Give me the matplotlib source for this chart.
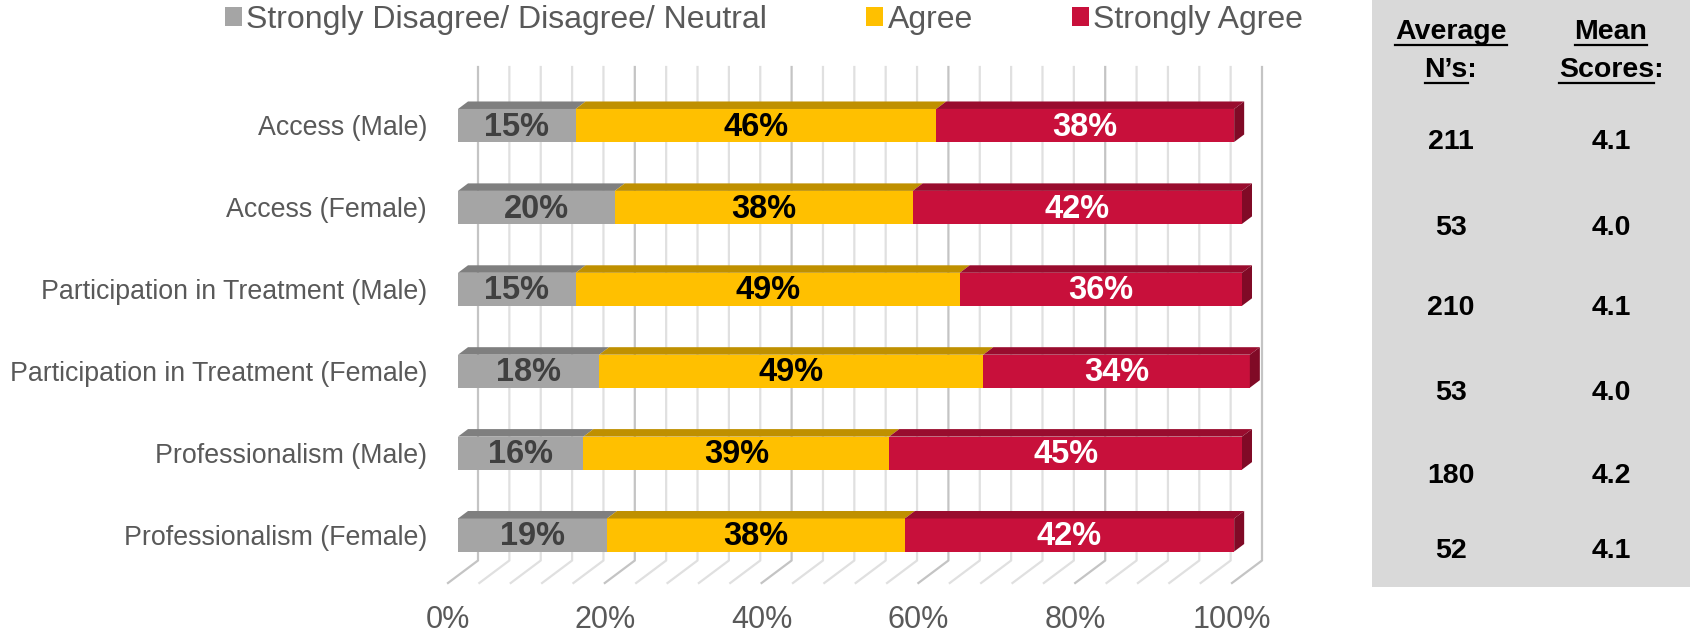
import matplotlib.pyplot as plt
from matplotlib.patches import Polygon, Rectangle
from matplotlib.lines import Line2D

plt.rcParams['font.family'] = ['Liberation Sans', 'DejaVu Sans']

# survey results (percent of responses)
categories = ['Access (Male)', 'Access (Female)', 'Participation in Treatment (Male)',
              'Participation in Treatment (Female)', 'Professionalism (Male)',
              'Professionalism (Female)']
neutral = [15, 20, 15, 18, 16, 19]
agree = [46, 38, 49, 49, 39, 38]
strongly_agree = [38, 42, 36, 34, 45, 42]
series_names = ['Strongly Disagree/ Disagree/ Neutral', 'Agree', 'Strongly Agree']

avg_n = [211, 53, 210, 53, 180, 52]
mean_scores = [4.1, 4.0, 4.1, 4.0, 4.2, 4.1]

x_ticks = [0, 20, 40, 60, 80, 100]
grid_step = 4

# front / top / side face colours and label colour per series
front_colors = ['#a5a5a5', '#ffc000', '#c8103b']
top_colors = ['#7f7f7f', '#bf9000', '#990c2e']
side_colors = ['#6f6f6f', '#a67d00', '#800a26']
label_colors = ['#404040', 'black', 'white']
gray_txt = '#595959'

W, H = 1696, 636
PX = 7.84            # pixels per percent
XMIN = -2.0
fig = plt.figure(figsize=(W / 100, H / 100), dpi=100)
left_px = 458 + XMIN * PX
ax = fig.add_axes([left_px / W, 1 - 583 / H, (100 - XMIN) * PX / W, (583 - 67) / H])
for s in ax.spines.values():
    s.set_visible(False)

# fake 3D depth in data units
DX = 1.276
DY = 0.0916
bar_h = 0.403
y_top, y_floor = -0.714, 5.586
y_back = y_floor - 3 * DY

# back wall gridlines + floor
for v in range(0, 101, grid_step):
    major = v % 20 == 0
    c = '#c4c4c4' if major else '#e0e0e0'
    ax.add_line(Line2D([v + 2 * DX, v + 2 * DX, v - DX], [y_top, y_back, y_floor],
                       color=c, lw=1.6, zorder=1, clip_on=False))

# stacked bars with top and end faces
rows = range(len(categories))
lefts = [0] * len(categories)
handles = []
for k, vals in enumerate([neutral, agree, strongly_agree]):
    bars = ax.barh(rows, vals, left=lefts, height=bar_h, color=front_colors[k],
                   zorder=3, label=series_names[k])
    for p in bars:
        p.set_clip_on(False)
    handles.append(bars)
    for i, (l, w) in enumerate(zip(lefts, vals)):
        yt = i - bar_h / 2
        ax.add_patch(Polygon([(l, yt), (l + w, yt), (l + w + DX, yt - DY), (l + DX, yt - DY)],
                             closed=True, facecolor=top_colors[k], edgecolor='none',
                             zorder=3, clip_on=False))
        ax.text(l + w / 2, i + 0.02, f'{w}%', ha='center', va='center', fontsize=23.5,
                fontweight='bold', color=label_colors[k], zorder=5)
    lefts = [l + w for l, w in zip(lefts, vals)]

for i, r in enumerate(lefts):
    yt, yb = i - bar_h / 2, i + bar_h / 2
    ax.add_patch(Polygon([(r, yt), (r + DX, yt - DY), (r + DX, yb - DY), (r, yb)],
                         closed=True, facecolor=side_colors[2], edgecolor='none',
                         zorder=3, clip_on=False))

ax.set_yticks(list(rows), categories)
ax.tick_params(axis='y', length=0, pad=(left_px - 427) * 0.72, labelsize=19.3,
               labelcolor=gray_txt)
ax.set_xticks([v - DX for v in x_ticks], [f'{v}%' for v in x_ticks])
ax.tick_params(axis='x', length=0, pad=16, labelsize=22, labelcolor=gray_txt)
ax.set_xlim(XMIN, 100)
ax.set_ylim(y_floor, y_top)

fig.legend(handles=handles, labels=series_names, loc='center left',
           bbox_to_anchor=(225 / W, 1 - 20 / H), ncol=3, frameon=False, fontsize=23,
           labelcolor=gray_txt, handlelength=0.52, handleheight=0.55, handletextpad=0.15,
           columnspacing=3.1, borderpad=0, borderaxespad=0)

# side table
fig.add_artist(Rectangle((1372 / W, 1 - 587 / H), (1690 - 1372) / W, 587 / H,
                         transform=fig.transFigure, facecolor='#d9d9d9',
                         edgecolor='none', zorder=0))
col_x = [1451 / W, 1611 / W]
row_px = [142, 228, 308, 393, 476, 551]
for i in rows:
    fig.text(col_x[0], 1 - row_px[i] / H, f'{avg_n[i]}', ha='center', va='center',
             fontsize=20.5, fontweight='bold', color='black')
    fig.text(col_x[1], 1 - row_px[i] / H, f'{mean_scores[i]:.1f}', ha='center',
             va='center', fontsize=20.5, fontweight='bold', color='black')

headers = [('Average', '', 0, 39), ('N\u2019s', ':', 0, 77),
           ('Mean', '', 1, 39), ('Scores', ':', 1, 77)]
renderer = fig.canvas.get_renderer()
for word, tail, c, base in headers:
    t = fig.text(col_x[c], 1 - base / H, word + tail, ha='center', va='baseline',
                 fontsize=20.5, fontweight='bold', color='black')
    full = t.get_window_extent(renderer)
    m = fig.text(0, 0, word, fontsize=20.5, fontweight='bold')
    ww = m.get_window_extent(renderer).width
    m.remove()
    uy = 1 - (base + 6) / H
    fig.add_artist(Line2D([full.x0 / W, (full.x0 + ww) / W], [uy, uy],
                          transform=fig.transFigure, color='black', lw=1.6))

fig.savefig('out.png', dpi=100)
